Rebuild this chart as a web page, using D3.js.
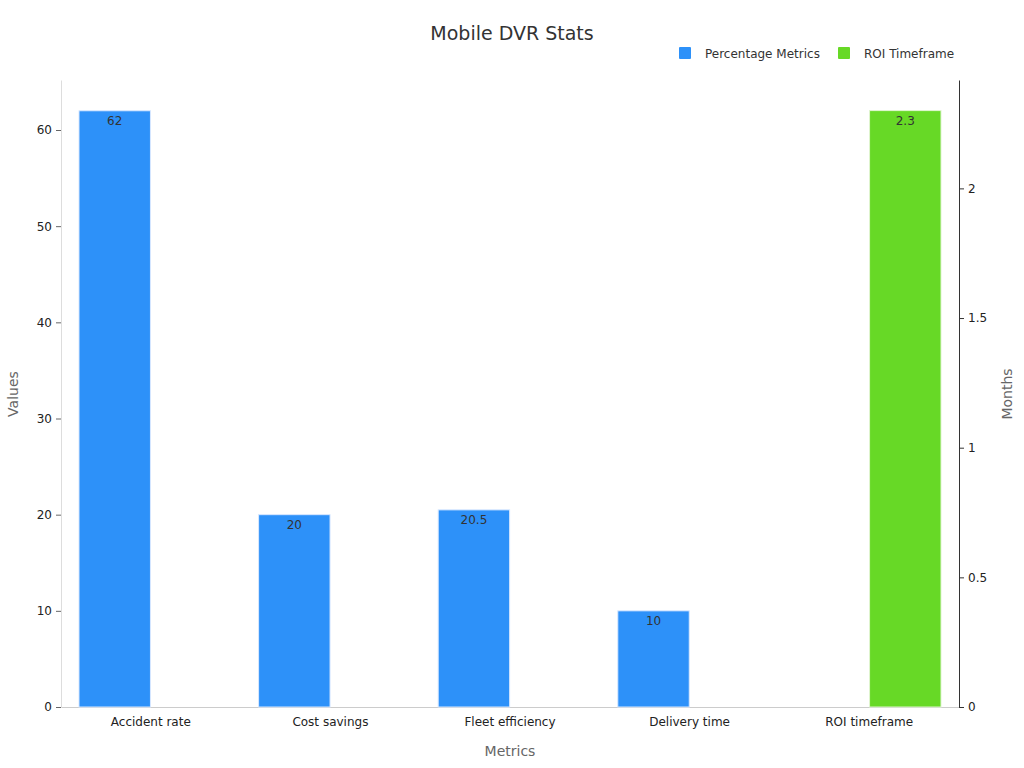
<!DOCTYPE html>
<html><head><meta charset="utf-8">
<script src="https://cdn.jsdelivr.net/npm/d3@7"></script>
<style>body{margin:0;background:#fff;font-family:"DejaVu Sans",sans-serif}</style>
</head><body>
<svg id="c" width="1024" height="768"></svg>
<script>
const categories=["Accident rate","Cost savings","Fleet efficiency","Delivery time","ROI timeframe"];
const pctValues=[62,20,20.5,10,null];
const roiValues=[null,null,null,null,2.3];
const leftTicks=[0,10,20,30,40,50,60];
const rightTicks=[0,0.5,1,1.5,2];
const seriesNames=["Percentage Metrics","ROI Timeframe"];
const colors=["#2d91f9","#67d926"];

const svg=d3.select("#c");
const L=61,R=959,T=80,B=707;
const x=d3.scaleBand().domain(categories).range([L,R]).padding(0);
const xs=d3.scaleBand().domain([0,1]).range([18,x.bandwidth()-18]).paddingInner(0.01);
const yL=d3.scaleLinear().domain([0,65.2]).range([B,T]);
const yR=d3.scaleLinear().domain([0,2.418]).range([B,T]);

const ax=svg.append("g").attr("transform",`translate(0,${B})`).call(d3.axisBottom(x).tickSize(0).tickPadding(10));
const la=svg.append("g").attr("transform",`translate(${L},0)`).call(d3.axisLeft(yL).tickValues(leftTicks).tickSize(5).tickPadding(4).tickSizeOuter(0));
const ra=svg.append("g").attr("transform",`translate(${R},0)`).call(d3.axisRight(yR).tickValues(rightTicks).tickFormat(d=>String(d)).tickSize(5).tickPadding(4).tickSizeOuter(0));
[ax,la,ra].forEach(g=>{g.selectAll("text").attr("fill","#222").style("font-size","12px").style("font-family","DejaVu Sans")});
ax.select(".domain").attr("stroke","#ccc");
la.select(".domain").attr("stroke","#ddd");la.selectAll("line").attr("stroke","#666");
ra.select(".domain").attr("stroke","#333");ra.selectAll("line").attr("stroke","#333");

const g=svg.append("g");
categories.forEach((c,i)=>{
  if(pctValues[i]!=null){
    const bx=x(c)+xs(0),by=yL(pctValues[i]);
    g.append("rect").attr("x",bx).attr("y",by).attr("width",xs.bandwidth()).attr("height",B-by).attr("fill",colors[0]).attr("stroke","#d8e8ff").attr("stroke-width",1);
    g.append("text").attr("x",bx+xs.bandwidth()/2).attr("y",by+14).attr("text-anchor","middle").attr("fill","#333").style("font-size","12px").text(pctValues[i]);
  }
  if(roiValues[i]!=null){
    const bx=x(c)+xs(1),by=yR(roiValues[i]);
    g.append("rect").attr("x",bx).attr("y",by).attr("width",xs.bandwidth()).attr("height",B-by).attr("fill",colors[1]).attr("stroke","#e0f5d0").attr("stroke-width",1);
    g.append("text").attr("x",bx+xs.bandwidth()/2).attr("y",by+14).attr("text-anchor","middle").attr("fill","#333").style("font-size","12px").text(roiValues[i]);
  }
});

svg.append("text").attr("x",512).attr("y",40).attr("text-anchor","middle").attr("fill","#333").style("font-size","19px").text("Mobile DVR Stats");
svg.append("text").attr("x",510).attr("y",756).attr("text-anchor","middle").attr("fill","#666").style("font-size","14px").text("Metrics");
svg.append("text").attr("transform","translate(18,394) rotate(-90)").attr("text-anchor","middle").attr("fill","#666").style("font-size","14px").text("Values");
svg.append("text").attr("transform","translate(1012,394) rotate(-90)").attr("text-anchor","middle").attr("fill","#666").style("font-size","14px").text("Months");

const lg=[{x:679,t:seriesNames[0],c:colors[0]},{x:838,t:seriesNames[1],c:colors[1]}];
lg.forEach(d=>{
  svg.append("rect").attr("x",d.x).attr("y",47).attr("width",12).attr("height",12).attr("rx",1).attr("fill",d.c);
  svg.append("text").attr("x",d.x+26).attr("y",58).attr("fill","#333").style("font-size","12px").text(d.t);
});
</script>
</body></html>
